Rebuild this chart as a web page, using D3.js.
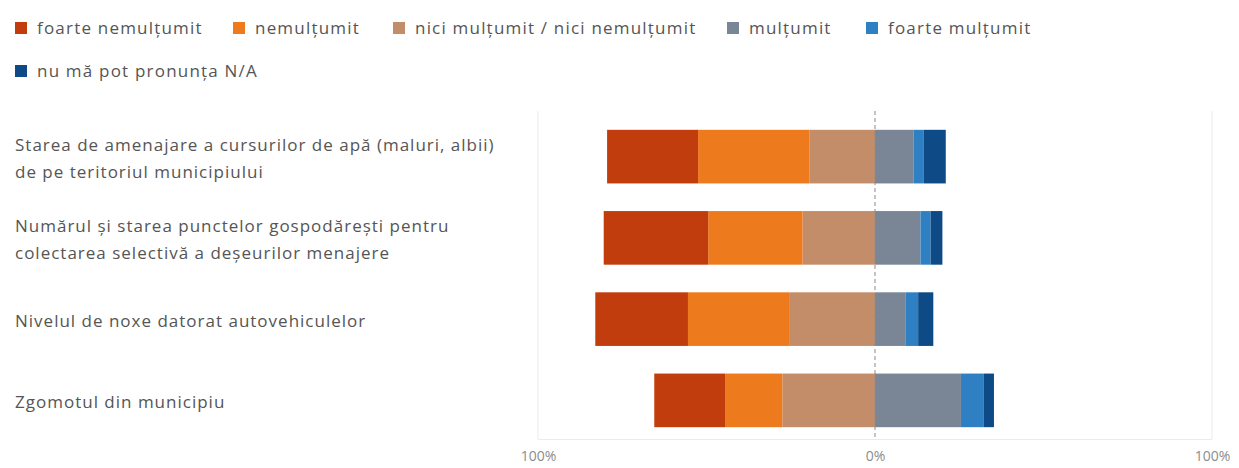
<!DOCTYPE html>
<html>
<head>
<meta charset="utf-8">
<script src="https://cdn.jsdelivr.net/npm/d3@7"></script>
<style>
  html, body { margin: 0; padding: 0; background: #fff; }
  svg { display: block; font-family: "Open Sans", "Noto Sans", sans-serif; }
</style>
</head>
<body>
<svg id="chart" width="1239" height="468"></svg>
<script>
// ---- data ----
const categories = [
  ["Starea de amenajare a cursurilor de apă (maluri, albii)", "de pe teritoriul municipiului"],
  ["Numărul și starea punctelor gospodărești pentru", "colectarea selectivă a deșeurilor menajere"],
  ["Nivelul de noxe datorat autovehiculelor"],
  ["Zgomotul din municipiu"]
];
const seriesNames = ["foarte nemulțumit", "nemulțumit", "nici mulțumit / nici nemulțumit", "mulțumit", "foarte mulțumit", "nu mă pot pronunța N/A"];
const foarteNemultumit = [27, 31, 27.5, 21];
const nemultumit       = [33, 28, 30, 17];
const niciNici         = [19.5, 21.5, 25.5, 27.5];
const multumit         = [11.5, 13.5, 9, 25.5];
const foarteMultumit   = [3, 3, 3.8, 6.8];
const nuMaPot          = [6.5, 3.5, 4.5, 3];
const tickValues = [-100, 0, 100];
const tickLabels = ["100%", "0%", "100%"];
const colors = ["#c23d0d", "#ee7a1e", "#c48d69", "#7a8696", "#2e80c3", "#0d4a86"];

// ---- layout ----
const svg = d3.select("#chart");
const x = d3.scaleLinear().domain([-100, 100]).range([538, 1212]);
const y = d3.scaleBand().domain(d3.range(categories.length)).range([116, 441])
  .paddingInner(0.34).paddingOuter(0.17);

const seriesVals = [foarteNemultumit, nemultumit, niciNici, multumit, foarteMultumit, nuMaPot];
const negCount = 3;

// gridlines
svg.append("g").selectAll("line").data([-100, 100]).join("line")
  .attr("x1", d => x(d)).attr("x2", d => x(d))
  .attr("y1", 111).attr("y2", 439)
  .attr("stroke", "#ebebeb").attr("stroke-width", 1);

// axis baseline
svg.append("line").attr("x1", x(-100)).attr("x2", x(100)).attr("y1", 439.5).attr("y2", 439.5)
  .attr("stroke", "#ebebeb");

// bars
const segs = [];
categories.forEach((c, i) => {
  let neg = 0;
  for (let s = negCount - 1; s >= 0; s--) {
    const v = seriesVals[s][i];
    segs.push({ i, s, x0: -(neg + v), x1: -neg });
    neg += v;
  }
  let pos = 0;
  for (let s = negCount; s < seriesVals.length; s++) {
    const v = seriesVals[s][i];
    segs.push({ i, s, x0: pos, x1: pos + v });
    pos += v;
  }
});
svg.append("g").selectAll("rect").data(segs).join("rect")
  .attr("x", d => x(d.x0)).attr("width", d => x(d.x1) - x(d.x0))
  .attr("y", d => y(d.i)).attr("height", y.bandwidth())
  .attr("fill", d => colors[d.s]);

// zero dashed line
svg.append("line").attr("x1", x(0)).attr("x2", x(0)).attr("y1", 111).attr("y2", 439)
  .attr("stroke", "#8a8a8a").attr("stroke-width", 1).attr("stroke-dasharray", "4,3");

// x axis tick labels
const xAxis = d3.axisBottom(x).tickValues(tickValues).tickFormat((d, k) => tickLabels[k]).tickSize(0).tickPadding(0);
const ax = svg.append("g").attr("transform", "translate(0,451)").call(xAxis);
ax.select(".domain").remove();
ax.selectAll("text").attr("fill", "#8c8c8c").attr("font-size", 14).attr("dy", "0.71em")
  .attr("font-family", "'Open Sans', sans-serif");

// category labels
const lab = svg.append("g").selectAll("text").data(categories).join("text")
  .attr("x", 15).attr("fill", "#555").attr("font-size", 17).attr("letter-spacing", 1);
lab.each(function(lines, i) {
  const cy = y(i) + y.bandwidth() / 2 + 1.5;
  const lh = 27;
  const start = cy - (lines.length - 1) * lh / 2;
  d3.select(this).selectAll("tspan").data(lines).join("tspan")
    .attr("x", 15).attr("y", (d, k) => start + k * lh).attr("dy", "0.35em").text(d => d);
});

// legend
const legendPos = [[15, 28], [233, 28], [393, 28], [727, 28], [866, 28], [15, 71]];
const lg = svg.append("g").selectAll("g").data(seriesNames).join("g")
  .attr("transform", (d, k) => `translate(${legendPos[k][0]},${legendPos[k][1]})`);
lg.append("rect").attr("x", 0).attr("y", -6).attr("width", 12).attr("height", 12)
  .attr("fill", (d, k) => colors[k]);
lg.append("text").attr("x", 22).attr("y", 0).attr("dy", "0.35em")
  .attr("font-size", 17).attr("letter-spacing", 1.2).attr("fill", "#555").text(d => d);
</script>
</body>
</html>
